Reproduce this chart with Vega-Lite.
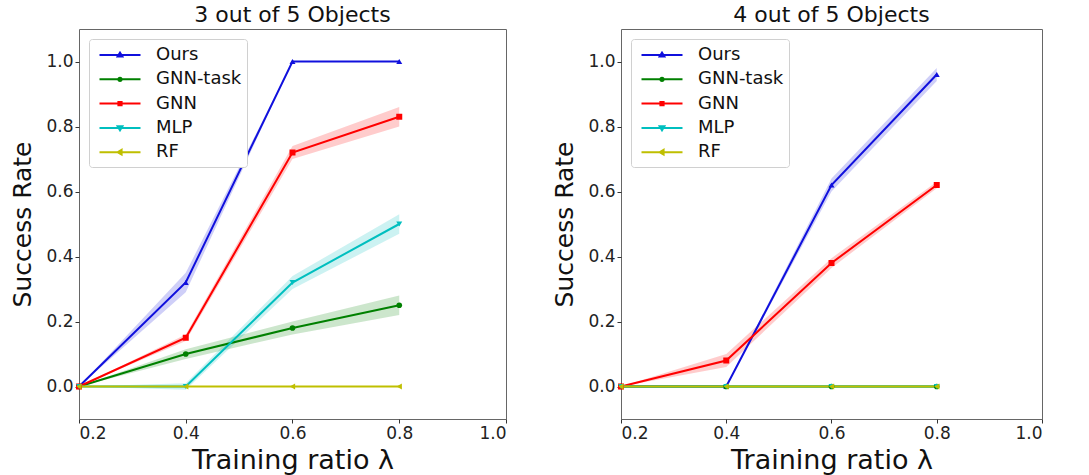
{
  "$schema": "https://vega.github.io/schema/vega-lite/v6.json",
  "background": "white",
  "padding": {"left": 10, "top": 3, "right": 5, "bottom": 5},
  "config": {
    "font": "DejaVu Sans",
    "view": {"stroke": "#666666", "strokeWidth": 1},
    "axis": {"grid": false, "domain": false, "ticks": true, "tickSize": 4, "tickColor": "#333333", "labelFont": "DejaVu Sans", "labelFontSize": 17, "labelColor": "#222222", "labelPadding": 2, "titleFont": "DejaVu Sans", "titleFontWeight": "normal", "titleColor": "#111111"},
    "title": {"font": "DejaVu Sans", "fontSize": 22, "fontWeight": "normal", "offset": 2, "color": "#111111"},
    "legend": {"orient": "top-left", "offset": 10, "padding": 5, "symbolOffset": 15, "labelOffset": 25, "rowPadding": 4.3, "strokeColor": "#d0d0d0", "fillColor": "white", "cornerRadius": 3, "labelFontSize": 18, "labelFont": "DejaVu Sans", "labelColor": "#111111", "symbolSize": 400, "symbolStrokeWidth": 2, "symbolOpacity": 1}
  },
  "data": {"values": [
    {"p": "A", "s": "Ours", "x": 0.2, "y": 0, "lo": 0, "hi": 0},
    {"p": "A", "s": "Ours", "x": 0.4, "y": 0.32, "lo": 0.29, "hi": 0.35},
    {"p": "A", "s": "Ours", "x": 0.6, "y": 1.0, "lo": 1.0, "hi": 1.0},
    {"p": "A", "s": "Ours", "x": 0.8, "y": 1.0, "lo": 1.0, "hi": 1.0},
    {"p": "A", "s": "GNN-task", "x": 0.2, "y": 0, "lo": 0, "hi": 0},
    {"p": "A", "s": "GNN-task", "x": 0.4, "y": 0.10, "lo": 0.085, "hi": 0.115},
    {"p": "A", "s": "GNN-task", "x": 0.6, "y": 0.18, "lo": 0.16, "hi": 0.20},
    {"p": "A", "s": "GNN-task", "x": 0.8, "y": 0.25, "lo": 0.22, "hi": 0.28},
    {"p": "A", "s": "GNN", "x": 0.2, "y": 0, "lo": 0, "hi": 0},
    {"p": "A", "s": "GNN", "x": 0.4, "y": 0.15, "lo": 0.14, "hi": 0.16},
    {"p": "A", "s": "GNN", "x": 0.6, "y": 0.72, "lo": 0.70, "hi": 0.74},
    {"p": "A", "s": "GNN", "x": 0.8, "y": 0.83, "lo": 0.80, "hi": 0.86},
    {"p": "A", "s": "MLP", "x": 0.2, "y": 0, "lo": 0, "hi": 0},
    {"p": "A", "s": "MLP", "x": 0.4, "y": 0.0, "lo": -0.01, "hi": 0.01},
    {"p": "A", "s": "MLP", "x": 0.6, "y": 0.32, "lo": 0.30, "hi": 0.34},
    {"p": "A", "s": "MLP", "x": 0.8, "y": 0.50, "lo": 0.47, "hi": 0.53},
    {"p": "A", "s": "RF", "x": 0.2, "y": 0, "lo": 0, "hi": 0},
    {"p": "A", "s": "RF", "x": 0.4, "y": 0, "lo": 0, "hi": 0},
    {"p": "A", "s": "RF", "x": 0.6, "y": 0, "lo": 0, "hi": 0},
    {"p": "A", "s": "RF", "x": 0.8, "y": 0, "lo": 0, "hi": 0},
    {"p": "B", "s": "Ours", "x": 0.2, "y": 0, "lo": 0, "hi": 0},
    {"p": "B", "s": "Ours", "x": 0.4, "y": 0, "lo": 0, "hi": 0},
    {"p": "B", "s": "Ours", "x": 0.6, "y": 0.62, "lo": 0.60, "hi": 0.64},
    {"p": "B", "s": "Ours", "x": 0.8, "y": 0.96, "lo": 0.94, "hi": 0.98},
    {"p": "B", "s": "GNN-task", "x": 0.2, "y": 0, "lo": 0, "hi": 0},
    {"p": "B", "s": "GNN-task", "x": 0.4, "y": 0, "lo": 0, "hi": 0},
    {"p": "B", "s": "GNN-task", "x": 0.6, "y": 0, "lo": 0, "hi": 0},
    {"p": "B", "s": "GNN-task", "x": 0.8, "y": 0, "lo": 0, "hi": 0},
    {"p": "B", "s": "GNN", "x": 0.2, "y": 0, "lo": 0, "hi": 0},
    {"p": "B", "s": "GNN", "x": 0.4, "y": 0.08, "lo": 0.06, "hi": 0.10},
    {"p": "B", "s": "GNN", "x": 0.6, "y": 0.38, "lo": 0.365, "hi": 0.395},
    {"p": "B", "s": "GNN", "x": 0.8, "y": 0.62, "lo": 0.61, "hi": 0.63},
    {"p": "B", "s": "MLP", "x": 0.2, "y": 0, "lo": 0, "hi": 0},
    {"p": "B", "s": "MLP", "x": 0.4, "y": 0, "lo": 0, "hi": 0},
    {"p": "B", "s": "MLP", "x": 0.6, "y": 0, "lo": 0, "hi": 0},
    {"p": "B", "s": "MLP", "x": 0.8, "y": 0, "lo": 0, "hi": 0},
    {"p": "B", "s": "RF", "x": 0.2, "y": 0, "lo": 0, "hi": 0},
    {"p": "B", "s": "RF", "x": 0.4, "y": 0, "lo": 0, "hi": 0},
    {"p": "B", "s": "RF", "x": 0.6, "y": 0, "lo": 0, "hi": 0},
    {"p": "B", "s": "RF", "x": 0.8, "y": 0, "lo": 0, "hi": 0}
  ]},
  "spacing": 45,
  "hconcat": [
    {
      "width": 427, "height": 390,
      "title": "3 out of 5 Objects",
      "transform": [{"filter": "datum.p == 'A'"}],
      "encoding": {
        "x": {"field": "x", "type": "quantitative", "scale": {"domain": [0.2, 1.0], "nice": false, "zero": false}, "axis": {"values": [0.2, 0.4, 0.6, 0.8, 1.0], "format": ".1f", "title": "Training ratio λ", "titleFontSize": 27, "titlePadding": 6}},
        "y": {"field": "y", "type": "quantitative", "scale": {"domain": [-0.1, 1.1], "nice": false, "zero": false}, "axis": {"values": [0, 0.2, 0.4, 0.6, 0.8, 1.0], "format": ".1f", "title": "Success Rate", "titleFontSize": 25, "titlePadding": 10}}
      },
      "layer": [
        {"mark": {"type": "area", "opacity": 0.2},
         "encoding": {"y": {"field": "lo", "type": "quantitative", "title": "Success Rate"}, "y2": {"field": "hi"},
           "fill": {"field": "s", "type": "nominal", "scale": {"domain": ["Ours", "GNN-task", "GNN", "MLP", "RF"], "range": ["#1010dd", "#008000", "#ff0000", "#00bfbf", "#bfbf00"]}, "legend": null}}},
        {"mark": {"type": "line", "strokeWidth": 2},
         "encoding": {"stroke": {"field": "s", "type": "nominal", "scale": {"domain": ["Ours", "GNN-task", "GNN", "MLP", "RF"], "range": ["#1010dd", "#008000", "#ff0000", "#00bfbf", "#bfbf00"]}, "legend": null}}},
        {"transform": [{"filter": "datum.s == 'Ours'"}], "mark": {"type": "point", "filled": true, "opacity": 1, "size": 36, "shape": "triangle-up", "fill": "#1010dd"}, "encoding": {}},
        {"transform": [{"filter": "datum.s == 'GNN-task'"}], "mark": {"type": "point", "filled": true, "opacity": 1, "size": 32, "shape": "circle", "fill": "#008000"}, "encoding": {}},
        {"transform": [{"filter": "datum.s == 'GNN'"}], "mark": {"type": "point", "filled": true, "opacity": 1, "size": 36, "shape": "square", "fill": "#ff0000"}, "encoding": {}},
        {"transform": [{"filter": "datum.s == 'MLP'"}], "mark": {"type": "point", "filled": true, "opacity": 1, "size": 36, "shape": "triangle-down", "fill": "#00bfbf"}, "encoding": {}},
        {"transform": [{"filter": "datum.s == 'RF'"}], "mark": {"type": "point", "filled": true, "opacity": 1, "size": 36, "shape": "triangle-left", "fill": "#bfbf00"}, "encoding": {}},
        {"mark": {"type": "point", "filled": false, "opacity": 0, "strokeWidth": 2},
         "encoding": {
           "color": {"field": "s", "type": "nominal", "scale": {"domain": ["Ours", "GNN-task", "GNN", "MLP", "RF"], "range": ["#1010dd", "#008000", "#ff0000", "#00bfbf", "#bfbf00"]}, "legend": {"title": null, "symbolOpacity": 1}},
           "shape": {"field": "s", "type": "nominal", "scale": {"domain": ["Ours", "GNN-task", "GNN", "MLP", "RF"], "range": ["M-2.05,0L2.05,0M-0.24,0.16L0,-0.24L0.24,0.16Z", "M-2.05,0L2.05,0M0.16,0A0.16,0.16,0,1,1,-0.16,0A0.16,0.16,0,1,1,0.16,0Z", "M-2.05,0L2.05,0M-0.16,-0.16L0.16,-0.16L0.16,0.16L-0.16,0.16Z", "M-2.05,0L2.05,0M-0.24,-0.16L0,0.24L0.24,-0.16Z", "M-2.05,0L2.05,0M0.16,-0.24L-0.24,0L0.16,0.24Z"]}, "legend": {"title": null, "symbolOpacity": 1}}
         }}
      ],
      "resolve": {"scale": {"color": "independent", "shape": "independent"}, "legend": {"color": "independent", "shape": "independent"}}
    },
    {
      "width": 421, "height": 390,
      "title": "4 out of 5 Objects",
      "transform": [{"filter": "datum.p == 'B'"}],
      "encoding": {
        "x": {"field": "x", "type": "quantitative", "scale": {"domain": [0.2, 1.0], "nice": false, "zero": false}, "axis": {"values": [0.2, 0.4, 0.6, 0.8, 1.0], "format": ".1f", "title": "Training ratio λ", "titleFontSize": 27, "titlePadding": 6}},
        "y": {"field": "y", "type": "quantitative", "scale": {"domain": [-0.1, 1.1], "nice": false, "zero": false}, "axis": {"values": [0, 0.2, 0.4, 0.6, 0.8, 1.0], "format": ".1f", "title": "Success Rate", "titleFontSize": 25, "titlePadding": 10}}
      },
      "layer": [
        {"mark": {"type": "area", "opacity": 0.2},
         "encoding": {"y": {"field": "lo", "type": "quantitative", "title": "Success Rate"}, "y2": {"field": "hi"},
           "fill": {"field": "s", "type": "nominal", "scale": {"domain": ["Ours", "GNN-task", "GNN", "MLP", "RF"], "range": ["#1010dd", "#008000", "#ff0000", "#00bfbf", "#bfbf00"]}, "legend": null}}},
        {"mark": {"type": "line", "strokeWidth": 2},
         "encoding": {"stroke": {"field": "s", "type": "nominal", "scale": {"domain": ["Ours", "GNN-task", "GNN", "MLP", "RF"], "range": ["#1010dd", "#008000", "#ff0000", "#00bfbf", "#bfbf00"]}, "legend": null}}},
        {"transform": [{"filter": "datum.s == 'Ours'"}], "mark": {"type": "point", "filled": true, "opacity": 1, "size": 36, "shape": "triangle-up", "fill": "#1010dd"}, "encoding": {}},
        {"transform": [{"filter": "datum.s == 'GNN-task'"}], "mark": {"type": "point", "filled": true, "opacity": 1, "size": 32, "shape": "circle", "fill": "#008000"}, "encoding": {}},
        {"transform": [{"filter": "datum.s == 'GNN'"}], "mark": {"type": "point", "filled": true, "opacity": 1, "size": 36, "shape": "square", "fill": "#ff0000"}, "encoding": {}},
        {"transform": [{"filter": "datum.s == 'MLP'"}], "mark": {"type": "point", "filled": true, "opacity": 1, "size": 36, "shape": "triangle-down", "fill": "#00bfbf"}, "encoding": {}},
        {"transform": [{"filter": "datum.s == 'RF'"}], "mark": {"type": "point", "filled": true, "opacity": 1, "size": 36, "shape": "triangle-left", "fill": "#bfbf00"}, "encoding": {}},
        {"mark": {"type": "point", "filled": false, "opacity": 0, "strokeWidth": 2},
         "encoding": {
           "color": {"field": "s", "type": "nominal", "scale": {"domain": ["Ours", "GNN-task", "GNN", "MLP", "RF"], "range": ["#1010dd", "#008000", "#ff0000", "#00bfbf", "#bfbf00"]}, "legend": {"title": null, "symbolOpacity": 1}},
           "shape": {"field": "s", "type": "nominal", "scale": {"domain": ["Ours", "GNN-task", "GNN", "MLP", "RF"], "range": ["M-2.05,0L2.05,0M-0.24,0.16L0,-0.24L0.24,0.16Z", "M-2.05,0L2.05,0M0.16,0A0.16,0.16,0,1,1,-0.16,0A0.16,0.16,0,1,1,0.16,0Z", "M-2.05,0L2.05,0M-0.16,-0.16L0.16,-0.16L0.16,0.16L-0.16,0.16Z", "M-2.05,0L2.05,0M-0.24,-0.16L0,0.24L0.24,-0.16Z", "M-2.05,0L2.05,0M0.16,-0.24L-0.24,0L0.16,0.24Z"]}, "legend": {"title": null, "symbolOpacity": 1}}
         }}
      ],
      "resolve": {"scale": {"color": "independent", "shape": "independent"}, "legend": {"color": "independent", "shape": "independent"}}
    }
  ],
  "resolve": {
    "scale": {"color": "independent", "shape": "independent", "fill": "independent", "stroke": "independent"},
    "legend": {"color": "independent", "shape": "independent", "fill": "independent", "stroke": "independent"}
  }
}
